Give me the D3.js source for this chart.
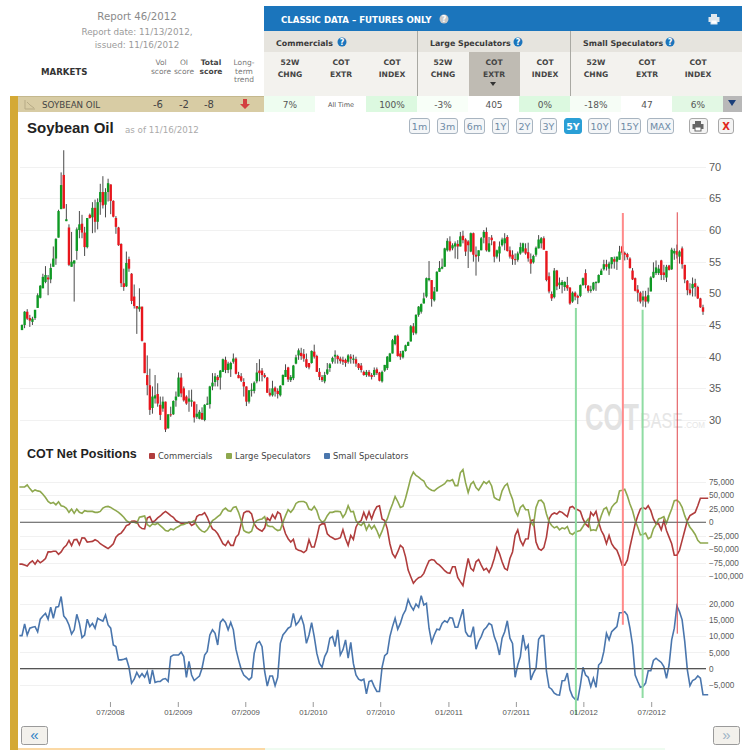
<!DOCTYPE html>
<html>

<head>
	<meta charset="utf-8">
	<title>Soybean Oil COT</title>
	<script src="https://d3js.org/d3.v7.min.js"></script>
	<style>
		html, body { margin: 0; padding: 0; background: #fff; }
		svg { display: block; }
	</style>
</head>

<body>
	<script>
		// Weekly prices, 11/13/2007 to 11/13/2012
		const opens = [
			44.2,45.0,47.1,46.1,45.5,46.1,47.7,49.3,50.8,51.8,
			52.5,52.2,54.2,55.5,58.8,63.3,68.7,61.4,60.4,54.2,
			54.7,56.7,60.0,61.0,59.6,57.3,62.4,62.0,63.5,61.3,
			64.4,66.0,64.0,66.0,67.2,64.6,61.9,60.4,57.8,51.6,
			51.1,55.4,53.1,49.5,48.0,47.5,47.9,42.2,37.1,35.5,
			31.9,33.4,34.1,32.4,31.8,32.9,28.7,30.9,30.9,33.1,
			33.7,36.7,35.0,33.7,32.9,32.9,32.9,30.5,30.2,31.1,
			30.0,32.4,32.5,35.3,36.0,36.8,36.7,37.6,39.5,37.9,
			38.0,39.2,39.7,37.1,36.9,36.0,35.3,32.9,
			34.6,34.6,36.1,37.8,37.8,37.1,36.7,34.3,33.9,35.1,
			34.6,33.9,35.5,36.8,38.3,36.3,36.6,38.9,40.2,40.6,
			40.4,39.6,39.0,39.0,40.8,40.1,37.6,36.8,36.1,37.3,
			38.2,39.2,40.0,40.1,39.7,39.5,39.5,39.2,40.0,39.5,
			39.6,38.9,38.6,37.6,37.1,37.6,37.1,37.1,38.0,37.5,
			36.1,37.8,38.2,39.2,40.5,42.0,43.3,40.5,39.9,40.9,
			41.7,42.4,44.8,43.7,46.6,47.1,48.4,49.5,52.1,52.1,
			48.9,50.3,53.4,53.9,54.2,56.8,58.2,57.1,57.4,57.8,
			57.4,59.1,58.5,58.2,56.6,59.5,56.1,55.9,56.8,58.8,
			59.7,56.6,58.8,58.2,55.8,56.3,57.6,57.9,58.9,56.8,
			56.1,55.4,55.3,56.3,56.6,57.1,56.5,55.4,54.9,56.1,
			57.1,57.9,58.7,56.7,52.7,49.9,49.4,53.6,51.3,51.3,
			51.0,51.3,50.9,48.7,50.1,49.6,49.6,51.3,53.2,51.2,
			50.4,50.6,51.6,51.7,52.9,53.8,54.6,53.9,54.6,55.4,
			55.0,55.3,57.4,56.4,56.2,55.5,53.6,52.4,50.6,50.1,
			48.9,49.5,48.7,50.3,52.5,53.2,53.2,55.2,53.3,52.5,
			54.4,53.8,56.3,56.7,55.8,57.1,54.5,52.0,50.6,50.8,
			51.6,51.0,49.2,47.8
		];
		const closes = [
			45.0,47.1,46.0,45.7,46.0,47.4,49.7,51.2,52.6,52.9,
			52.2,54.0,55.5,58.6,63.0,67.1,63.4,61.7,54.5,55.0,
			55.2,60.1,60.9,59.6,57.3,61.9,61.9,63.5,61.3,64.4,
			66.0,63.9,66.0,67.4,64.6,62.1,60.5,57.6,51.6,51.0,
			54.8,53.9,48.8,48.0,47.6,47.9,42.5,37.4,35.5,31.6,
			33.7,33.9,32.6,30.8,32.9,28.5,30.9,30.8,33.0,33.7,
			36.7,34.2,33.1,32.6,33.4,33.1,30.4,31.0,31.3,30.1,
			32.4,32.6,35.3,35.9,36.9,36.3,37.8,39.6,37.9,38.9,
			39.0,39.7,37.3,36.6,36.2,35.3,32.9,34.7,
			34.8,35.9,37.5,37.4,37.1,36.8,34.3,33.9,35.0,34.5,
			34.1,35.4,37.1,37.9,36.4,36.8,38.6,39.9,41.0,40.1,
			39.7,38.4,38.3,40.9,40.0,37.6,36.8,36.3,37.1,38.0,
			38.8,39.8,40.3,39.6,39.3,39.2,39.0,40.2,39.7,39.7,
			38.9,38.2,37.9,37.1,37.6,37.0,36.8,37.9,37.4,36.2,
			37.6,38.7,40.0,40.5,42.6,43.3,40.1,40.0,40.9,41.8,
			42.3,44.8,43.8,46.6,47.9,48.3,49.2,52.4,52.4,49.1,
			50.3,53.4,54.0,54.2,57.1,58.3,56.8,57.6,57.9,57.4,
			59.0,58.4,56.6,57.6,59.5,56.1,55.8,56.8,58.7,59.7,
			56.8,57.9,58.4,55.8,56.8,57.4,58.5,58.7,56.7,55.8,
			55.4,55.3,56.3,57.3,57.9,56.3,55.5,54.7,55.9,57.2,
			58.5,58.7,56.9,52.1,50.3,49.2,53.6,51.1,51.7,51.8,
			51.8,50.8,48.4,50.1,49.5,49.3,51.3,52.4,51.3,50.4,
			50.6,51.7,51.8,52.9,53.6,54.6,54.2,54.7,55.7,55.0,
			55.8,56.6,56.4,56.1,55.7,54.0,52.2,50.4,50.1,48.7,
			49.5,48.7,49.7,52.5,53.4,54.1,53.9,52.9,52.9,54.2,
			53.7,56.9,56.7,56.1,56.6,54.6,52.2,50.5,50.0,51.5,
			51.0,49.2,47.8,47.1
		];
		const highs = [
			45.1,47.2,47.5,46.6,46.3,47.4,50.0,51.3,53.1,54.3,
			52.9,54.7,57.4,58.7,63.2,69.1,72.6,64.1,60.9,59.7,
			55.2,60.4,63.0,62.4,60.5,61.9,62.6,64.4,64.8,65.0,
			67.3,68.5,66.6,68.1,67.2,64.7,62.2,60.5,57.9,53.9,
			56.6,55.8,53.2,51.4,48.0,50.8,47.9,42.2,40.2,38.1,
			35.3,37.1,35.8,33.7,33.7,32.9,30.9,32.1,33.1,34.5,
			37.5,37.4,35.3,33.9,34.7,34.8,32.9,32.5,31.6,32.0,
			32.5,33.7,35.4,37.4,37.4,37.1,37.9,39.7,40.0,39.2,
			39.2,40.5,39.9,37.6,37.4,36.6,35.3,34.7,
			35.8,36.1,39.0,39.6,38.2,37.4,36.8,35.0,36.2,35.3,
			35.0,35.5,37.2,38.8,38.4,37.1,38.7,40.3,41.3,41.4,
			41.2,40.5,39.0,41.0,41.9,40.3,38.2,37.1,37.6,39.0,
			39.0,40.0,41.0,40.3,40.0,40.0,39.7,40.4,40.4,40.3,
			40.0,39.0,39.0,37.8,37.9,37.9,37.4,38.3,38.3,37.6,
			37.8,38.7,40.1,40.6,42.8,43.4,43.5,40.9,41.0,41.9,
			42.4,45.0,45.3,46.7,48.0,48.4,50.1,52.5,55.1,52.1,
			51.0,53.5,55.1,55.5,57.2,58.7,59.0,57.9,58.2,58.4,
			59.7,59.9,58.7,58.4,59.6,59.6,57.4,56.8,58.9,60.0,
			60.4,58.9,59.2,58.2,56.9,58.2,58.8,59.5,59.2,57.4,
			56.8,56.3,56.6,58.0,58.0,57.9,58.0,56.3,56.1,57.4,
			59.2,58.9,59.0,56.7,53.3,50.3,54.0,53.7,52.5,52.1,
			51.9,52.6,51.0,50.3,50.3,49.8,51.4,52.5,53.8,51.3,
			51.2,51.8,51.9,53.0,53.9,55.3,55.3,55.0,55.7,55.8,
			55.8,57.5,57.5,56.6,56.4,55.7,54.0,52.5,51.3,50.3,
			50.4,50.4,50.9,52.7,54.9,55.2,54.5,55.3,54.5,54.5,
			54.5,57.2,57.1,57.7,56.8,57.4,54.5,52.1,51.6,52.5,
			52.3,51.2,49.3,48.2
		];
		const lows = [
			44.2,44.5,45.8,44.7,45.0,45.8,47.7,49.2,50.8,51.6,
			49.7,51.6,54.2,54.5,58.8,63.3,63.4,61.4,54.3,54.2,
			48.7,55.3,58.7,58.7,55.9,57.1,61.8,59.5,59.6,60.1,
			62.4,63.4,62.0,64.5,62.5,62.0,59.4,57.5,51.0,50.4,
			51.0,53.4,48.3,47.6,43.6,47.1,42.4,37.4,33.9,30.8,
			31.0,32.6,32.1,30.0,31.3,28.1,28.6,30.5,30.8,32.1,
			33.7,33.6,32.9,32.4,31.3,32.1,29.6,30.2,30.1,30.0,
			29.8,32.4,31.8,34.7,35.3,35.3,34.8,37.6,37.4,37.4,
			36.8,38.9,37.2,36.6,36.0,33.7,32.2,32.6,
			33.7,34.2,35.8,36.1,36.1,36.6,34.3,33.7,33.7,33.7,
			33.4,33.7,35.5,36.8,36.0,36.0,36.3,38.8,39.5,39.5,
			39.2,38.2,38.0,38.9,39.7,37.6,36.3,36.0,35.8,37.1,
			37.6,38.9,38.9,38.9,38.9,38.7,38.4,38.9,38.9,38.9,
			38.4,37.9,37.5,37.0,36.8,36.8,36.4,36.8,37.1,36.1,
			35.9,37.6,37.9,39.2,40.5,41.8,40.0,39.5,39.7,40.8,
			41.7,42.4,43.4,43.5,46.3,46.8,48.4,49.3,51.9,47.9,
			48.7,50.3,53.4,53.8,54.2,56.6,56.6,56.8,55.5,55.4,
			57.4,57.9,55.9,54.0,56.5,55.0,52.8,55.0,56.8,57.9,
			56.6,56.5,57.6,54.9,55.5,55.0,57.4,56.8,56.6,55.5,
			54.5,54.5,55.0,56.1,56.4,56.1,55.0,53.1,54.7,55.8,
			57.1,57.1,56.9,51.9,50.0,48.8,49.2,50.5,50.7,50.0,
			50.4,50.4,48.2,48.5,48.9,48.3,49.4,51.2,50.8,50.1,
			50.1,50.4,50.4,51.6,52.9,53.6,53.6,52.9,53.9,53.9,
			53.7,55.3,56.1,55.2,55.3,53.9,52.1,50.3,48.7,48.4,
			47.9,47.8,48.4,50.3,52.4,52.9,52.9,52.1,52.1,51.8,
			53.6,53.7,55.3,55.5,54.7,53.9,51.6,49.7,49.7,49.5,
			49.5,49.1,47.7,46.6
		];

		// COT net positions, thousands of contracts, one week either side of the prices
		const largeSpec = [
			65.3,65.3,65.3,68.9,62.2,56.7,59.8,58.0,56.7,51.9,
			45.8,38.4,34.8,36.6,32.3,37.8,30.5,29.3,25.6,18.3,
			24.4,16.5,24.4,18.3,16.5,21.4,20.1,20.1,20.1,18.3,
			18.3,20.1,26.2,28.7,29.3,27.5,24.4,21.4,18.3,14.0,
			9.2,3.1,0,0,0,-1.8,9.2,10.4,11.6,-4.3,
			-7.9,-3.1,-4.3,-1.8,-6.1,-10.4,-15.3,-16.5,-12.2,-14.0,
			-10.4,-7.9,-4.9,-4.3,-1.8,0,0,3.1,-6.1,-12.2,
			-16.5,-18.3,-14.0,-6.1,3.1,6.1,10.4,14.0,22.6,26.2,
			21.4,20.1,27.5,28.7,18.3,3.1,-15.3,-18.3,-19.5,-16.5,
			-1.8,3.1,4.9,6.1,10.4,-6.1,-7.9,-7.9,-12.2,-15.3,
			-14.0,0,12.2,23.2,18.3,24.4,34.8,37.8,38.4,38.4,
			35.4,24.4,22.6,29.3,21.4,6.1,0,3.1,12.2,18.3,
			18.3,20.1,20.1,19.5,9.2,16.5,30.5,19.5,20.1,
			3.1,-3.1,-6.1,0,-14.0,-4.3,-12.2,-6.1,-15.3,-27.5,
			-16.5,-3.1,6.1,21.4,33.6,47.6,38.4,27.5,29.3,44.5,
			62.8,82.4,92.7,86.6,83.6,79.3,76.3,66.5,62.2,59.2,
			58.0,62.2,65.3,68.3,71.4,77.5,76.3,78.7,67.7,67.7,
			91.5,97.6,73.2,54.9,70.2,75.0,64.1,59.2,67.1,75.0,
			71.4,76.3,67.1,45.8,42.7,40.9,58.0,67.1,71.4,54.9,
			42.7,21.4,12.2,27.5,31.7,23.2,23.2,0,-6.1,27.5,
			39.7,40.9,34.8,15.3,1.2,-6.1,-10.4,-7.9,-14.0,-10.4,
			-12.2,-7.9,-20.1,-22.6,-18.3,-16.5,-15.3,-7.9,0,6.1,
			-15.3,-14.0,-15.3,-3.1,12.2,24.4,27.5,14.0,27.5,33.6,
			37.8,58.0,59.2,61.0,48.8,33.6,21.4,3.1,-9.2,-23.2,
			-22.6,-20.1,-30.5,-27.5,-12.2,-4.3,6.1,7.9,10.4,-1.8,
			12.2,24.4,39.7,40.9,36.6,27.5,12.2,0,-9.2,-15.3,
			-22.6,-33.6,-38.4,-38.4,-38.4,-38.4
		];
		const commercials = [
			-77.5,-77.5,-79.3,-81.1,-75.0,-71.4,-77.5,-70.2,-75.0,-71.4,
			-67.1,-54.9,-54.9,-53.7,-53.7,-59.2,-54.9,-47.0,-42.7,-33.6,
			-43.3,-32.3,-31.7,-41.5,-28.7,-29.3,-36.6,-36.0,-35.4,-32.3,-34.8,
			-39.7,-42.7,-45.8,-48.8,-44.5,-39.7,-27.5,-22.6,-20.1,-14.0,
			-6.1,-4.3,1.8,2.4,1.2,-7.9,-11.6,-12.2,7.9,10.4,
			0,3.1,7.9,11.6,16.5,20.1,16.5,12.2,9.2,3.1,
			0.6,-1.8,-1.8,-1.8,0,-6.1,-3.1,10.4,14.0,14.0,
			17.7,9.2,-3.1,-12.2,-15.3,-21.4,-30.5,-39.7,-43.3,-34.8,
			-42.7,-42.7,-27.5,-22.6,-3.1,17.1,20.1,20.1,15.3,-3.1,
			-10.4,-14.0,-16.5,-10.4,7.9,3.1,14.0,6.7,18.9,15.3,
			-6.1,-21.4,-30.5,-36.6,-31.7,-48.8,-51.9,-53.1,-56.1,-51.9,
			-32.3,-45.8,-45.8,-27.5,-6.1,-3.1,-3.1,-21.4,-26.2,-28.7,
			-31.7,-30.5,-28.7,-14.0,-30.5,-42.7,-24.4,-31.7,-9.2,0,
			3.1,18.3,6.1,19.5,6.1,20.1,28.7,30.5,
			6.1,3.1,-12.2,-39.7,-58.0,-65.3,-54.9,-42.7,-47.0,
			-64.1,-88.5,-100.7,-112.9,-106.8,-102.5,-100.7,-94.6,-82.4,-71.4,
			-68.9,-70.2,-76.3,-79.3,-84.2,-89.7,-93.3,-94.6,-82.4,-82.4,
			-101.9,-109.8,-117.1,-91.5,-67.1,-85.4,-89.7,-73.2,-68.9,-79.3,
			-88.5,-85.4,-92.7,-82.4,-67.1,-47.0,-58.0,-73.2,-85.4,-88.5,
			-67.1,-54.9,-24.4,-14.0,-33.6,-42.7,-31.1,-30.5,3.1,4.3,
			-36.6,-48.8,-51.9,-47.0,-27.5,6.1,14.0,17.1,15.3,20.1,
			18.3,14.0,10.4,27.5,29.3,24.4,23.2,20.1,6.1,-3.1,
			-7.9,18.3,12.2,20.1,0,-15.3,-24.4,-39.7,-24.4,-39.7,
			-47.0,-51.9,-64.1,-79.3,-79.3,-70.2,-45.8,-24.4,-3.1,12.2,
			24.4,27.5,24.4,30.5,21.4,6.1,-3.1,-3.1,-14.0,3.1,
			-15.3,-27.5,-39.7,-61.0,-61.0,-51.9,-33.6,-15.3,3.1,12.2,
			15.3,18.3,30.5,44.5,44.5,44.5,44.5
		];
		const smallSpec = [
			10.2,10.2,13.8,10.4,12.5,12.8,13.0,11.4,15.3,16.3,
			17.1,15.3,19.0,15.6,19.0,19.2,22.3,16.3,15.3,13.5,
			10.7,12.0,16.8,14.0,9.6,10.4,15.3,13.0,14.0,12.5,
			15.6,15.1,14.7,16.6,13.5,12.5,7.3,6.8,2.7,2.7,
			2.9,3.2,0.4,-4.5,-3.3,-1.2,-2.7,-1.6,-2.7,-0.9,
			-4.7,-0.4,-4.3,-4.0,-4.0,-3.3,-3.1,-4.0,3.7,4.2,
			4.2,4.2,5.1,3.7,-2.7,2.2,-2.0,-3.7,-3.0,-2.3,
			0.1,4.2,5.3,10.4,12.0,10.9,7.3,14.3,15.3,14.3,
			12.0,14.3,12.0,6.0,2.7,-0.2,-2.0,-2.7,-3.5,-2.7,
			4.7,7.8,8.4,6.8,-0.9,-5.4,-2.3,-2.3,-5.3,-2.7,
			7.8,10.4,11.4,12.5,13.0,17.1,13.5,14.5,16.1,13.5,
			7.8,10.4,14.2,9.9,4.7,1.6,0.4,3.7,5.3,9.4,
			9.9,6.8,12.0,4.2,5.8,8.9,3.2,8.1,1.6,-2.0,
			-3.3,-3.7,-3.3,-7.8,-4.0,-3.7,-5.6,-7.1,-7.1,
			0.4,4.0,4.7,9.9,13.0,15.6,12.2,14.0,16.6,18.1,
			21.4,19.4,18.1,20.0,19.0,22.6,19.7,20.2,12.5,8.1,
			10.4,12.2,12.0,14.0,14.8,14.3,15.8,15.6,12.8,12.8,
			15.6,18.4,11.4,10.1,9.9,13.0,6.0,8.4,9.9,12.0,
			12.8,14.0,13.5,9.9,7.8,4.2,9.4,11.4,14.8,9.4,
			7.8,-2.7,1.1,3.7,10.4,6.0,7.3,-3.5,-1.4,0.1,
			9.1,10.2,10.2,-0.9,-5.8,-6.4,-7.6,-8.1,-8.2,-3.8,
			-3.7,-1.4,-6.6,-8.7,-9.5,-9.7,-5.1,0.4,-2.0,-2.7,
			-5.6,-3.0,-5.8,1.1,1.9,5.3,10.9,8.9,11.4,12.2,
			13.0,17.3,17.3,17.6,16.6,12.5,7.3,-2.0,-4.0,-5.8,
			-5.6,-4.5,-0.7,-0.7,2.5,3.2,2.5,1.9,0.6,-3.0,
			1.1,8.9,12.5,19.4,17.6,15.1,8.4,-0.4,-5.3,-3.7,
			-3.3,-2.3,-3.0,-8.1,-8.1,-8.1
		];

		const priceTicks = [30, 35, 40, 45, 50, 55, 60, 65, 70];
		const netTicks = [-100, -75, -50, -25, 0, 25, 50, 75];
		const smallTicks = [-5, 0, 5, 10, 15, 20];
		const tickDates = ['2008-07-06', '2009-01-04', '2009-07-04', '2010-01-01', '2010-07-01', '2010-12-31', '2011-06-30', '2011-12-28', '2012-06-27'];
		const tickLabels = ['07/2008', '01/2009', '07/2009', '01/2010', '07/2010', '01/2011', '07/2011', '01/2012', '07/2012'];

		// Signal lines: date, price where it starts, small spec value where it stops
		const signalDates = ['2011-12-08', '2012-04-12', '2012-06-04', '2012-09-05'];
		const signalPrices = [47.7, 62.7, 47.4, 62.8];
		const signalEnds = [-14.4, 13.6, -9.1, 10.8];
		const signalKinds = ['buy', 'sell', 'buy', 'sellThin'];

		const rangeButtons = ['1m', '3m', '6m', '1Y', '2Y', '3Y', '5Y', '10Y', '15Y', 'MAX'];
		const legendNames = ['Commercials', 'Large Speculators', 'Small Speculators'];
		const groupNames = ['Commercials', 'Large Speculators', 'Small Speculators'];
		const headerRows = [['52W', 'CHNG'], ['COT', 'EXTR'], ['COT', 'INDEX']];
		const rowValues = ['7%', 'All Time', '100%', '-3%', '405', '0%', '-18%', '47', '6%'];
		const scoreValues = ['-6', '-2', '-8'];

		const sans = 'DejaVu Sans, sans-serif';
		const arial = 'Liberation Sans, Arial, sans-serif';

		const svg = d3.select('body')
			.append('svg')
			.attr('width', 751)
			.attr('height', 750);

		function label(g, x, y, str, size, color, opts = {}) {
			return g.append('text')
				.attr('x', x)
				.attr('y', y)
				.attr('font-family', opts.family || sans)
				.attr('font-size', size)
				.attr('font-weight', opts.weight || 'normal')
				.attr('text-anchor', opts.anchor || 'start')
				.attr('fill', color)
				.text(str);
		}

		function box(g, x, y, w, h, fill) {
			return g.append('rect')
				.attr('x', x)
				.attr('y', y)
				.attr('width', w)
				.attr('height', h)
				.attr('fill', fill);
		}

		function helpDot(g, x, y, fill) {
			g.append('circle').attr('cx', x).attr('cy', y).attr('r', 4.5).attr('fill', fill);
			label(g, x, y + 3, '?', 8, '#fff', { anchor: 'middle', weight: 'bold' });
		}

		function printIcon(g, x, y, color) {
			box(g, x - 3, y - 5, 6, 3, color);
			box(g, x - 5.5, y - 2, 11, 5, color);
			box(g, x - 3, y + 1, 6, 4, '#fff').attr('stroke', color);
		}

		// ---- table header ----
		const head = svg.append('g');

		label(head, 137, 20, 'Report 46/2012', 10.2, '#8a8a8a', { anchor: 'middle' });
		label(head, 137, 35, 'Report date: 11/13/2012,', 8.8, '#9a9a9a', { anchor: 'middle' });
		label(head, 137, 48, 'issued: 11/16/2012', 8.8, '#9a9a9a', { anchor: 'middle' });
		label(head, 41, 75, 'MARKETS', 8.6, '#333', { weight: 'bold' });

		label(head, 161, 65, 'Vol', 7.5, '#777', { anchor: 'middle' });
		label(head, 161, 74, 'score', 7.5, '#777', { anchor: 'middle' });
		label(head, 184, 65, 'OI', 7.5, '#777', { anchor: 'middle' });
		label(head, 184, 74, 'score', 7.5, '#777', { anchor: 'middle' });
		label(head, 211, 65, 'Total', 7.5, '#444', { anchor: 'middle', weight: 'bold' });
		label(head, 211, 74, 'score', 7.5, '#444', { anchor: 'middle', weight: 'bold' });
		label(head, 244, 65, 'Long-', 7.5, '#777', { anchor: 'middle' });
		label(head, 244, 74, 'term', 7.5, '#777', { anchor: 'middle' });
		label(head, 244, 82, 'trend', 7.5, '#777', { anchor: 'middle' });

		box(head, 264, 6, 478, 25, '#1b75bc');
		box(head, 264, 31, 478, 21, '#e6e4de');
		box(head, 264, 52, 478, 44, '#f3f2ee');
		box(head, 469, 52, 51, 44, '#bfbbb3');
		label(head, 281, 23, 'CLASSIC DATA \u2013 FUTURES ONLY', 8.6, '#fff', { weight: 'bold' });
		helpDot(head, 444, 19, '#c8c8c8');
		printIcon(head, 714, 19, '#dfe7ee');

		const groupX = [276, 430, 583];
		const groupHelp = [342, 518, 670];
		groupNames.forEach((name, i) => {
			label(head, groupX[i], 46, name, 7.9, '#3a3a3a', { weight: 'bold' });
			helpDot(head, groupHelp[i], 42, '#1b75bc');
		});
		[417, 570].forEach(x => box(head, x, 31, 1, 65, '#a9a9a3'));

		const colX = d3.scalePoint().domain(d3.range(9)).range([290, 698]);
		const cellColors = ['#eefdf0', '#fff', '#dcf9e0', '#f8fff8', '#fff', '#dcf9e0', '#f6fdf6', '#fff', '#e2f8e4'];
		rowValues.forEach((v, i) => {
			const hdr = headerRows[i % 3];
			label(head, colX(i), 65, hdr[0], 7.6, '#444', { anchor: 'middle', weight: 'bold' });
			label(head, colX(i), 77, hdr[1], 7.6, '#444', { anchor: 'middle', weight: 'bold' });
		});
		head.append('path').attr('d', 'M490 82h6l-3 4z').attr('fill', '#333');

		// ---- market row ----
		box(head, 10, 96, 8, 16, '#d4a935');
		box(head, 18, 96, 246, 16, '#d8cca4');
		box(head, 18, 96, 246, 1, '#c4b88e');
		head.append('path').attr('d', 'M25 100v9h10M27 102l3 3 4 3').attr('fill', 'none').attr('stroke', '#b7ab86');
		label(head, 42, 108, 'SOYBEAN OIL', 8.7, '#444');
		[158, 184, 209].forEach((x, i) => label(head, x, 108, scoreValues[i], 10, '#444', { anchor: 'middle' }));
		head.append('path').attr('d', 'M243 99h4v5h3l-5 5l-5-5h3z').attr('fill', '#d33f3f');

		rowValues.forEach((v, i) => {
			box(head, 264 + i * 51, 96, 51, 16, cellColors[i]);
			label(head, colX(i), v === 'All Time' ? 107 : 108, v, v === 'All Time' ? 6.5 : 9, '#555', { anchor: 'middle' });
		});
		box(head, 723, 96, 19, 16, '#b8b8b8');
		head.append('path').attr('d', 'M728 100h8l-4 6z').attr('fill', '#1b3f7a');

		// ---- chart frame ----
		box(svg, 10, 112, 8, 638, '#d4a935');
		box(svg, 18, 748, 247, 2, '#fbd9a5');
		box(svg, 265, 748, 400, 2, '#eefbf0');
		label(svg, 27, 133, 'Soybean Oil', 15, '#222', { family: arial, weight: 'bold' });
		label(svg, 125, 133, 'as of 11/16/2012', 8.7, '#aaa');

		const buttonX = [409, 437, 464, 492, 516, 540, 564, 588, 618, 647];
		const buttonW = [20, 20, 20, 16, 16, 16, 17, 22, 22, 26];
		rangeButtons.forEach((b, i) => {
			const active = b === '5Y';
			box(svg, buttonX[i] + 0.5, 118.5, buttonW[i], 15, active ? '#2a9fd6' : '#f4f6f8')
				.attr('rx', 2.5)
				.attr('stroke', active ? '#2a9fd6' : '#a8b4c0');
			label(svg, buttonX[i] + buttonW[i] / 2 + 0.5, 130, b, 9.5, active ? '#fff' : '#6d8aa6', { anchor: 'middle', weight: active ? 'bold' : 'normal' });
		});
		box(svg, 689.5, 118.5, 18, 15, '#f4f4f4').attr('rx', 2.5).attr('stroke', '#a8a8a8');
		printIcon(svg, 698, 126, '#666');
		box(svg, 718.5, 118.5, 15, 15, '#f4f4f4').attr('rx', 2.5).attr('stroke', '#a8a8a8');
		label(svg, 726, 130, 'X', 10, '#e0281e', { anchor: 'middle', weight: 'bold' });

		// ---- scales ----
		const parseDate = d3.utcParse('%Y-%m-%d');
		const cotDates = d3.range(largeSpec.length).map(i => d3.utcDay.offset(parseDate('2007-11-06'), i * 7));
		const weekDates = cotDates.slice(1, closes.length + 1);

		const xScale = d3.scaleUtc()
			.domain([weekDates[0], weekDates[weekDates.length - 1]])
			.range([22, 703]);
		const priceY = d3.scaleLinear().domain([30, 70]).range([420, 166.7]);
		const netY = d3.scaleLinear().domain([-100, 75]).range([576.3, 481.7]);
		const smallY = d3.scaleLinear().domain([-5, 20]).range([684.7, 604]);

		// ---- grid lines ----
		function grid(scale, ticks) {
			svg.append('g').selectAll('line')
				.data(ticks)
				.enter()
				.append('line')
				.attr('x1', 20)
				.attr('x2', 706)
				.attr('y1', d => Math.round(scale(d)) + 0.5)
				.attr('y2', d => Math.round(scale(d)) + 0.5)
				.attr('stroke', '#f1f1f1');
		}
		grid(priceY, priceTicks);
		grid(netY, netTicks);
		grid(smallY, smallTicks);

		// ---- watermark ----
		const mark = svg.append('g');
		label(mark, 585, 430, 'COT', 36, '#e2e2e2', { family: arial, weight: 'bold' })
			.attr('textLength', 54).attr('lengthAdjust', 'spacingAndGlyphs');
		label(mark, 640, 428, 'BASE', 22, '#e6e6e6', { family: arial })
			.attr('textLength', 43).attr('lengthAdjust', 'spacingAndGlyphs');
		label(mark, 684, 428, '.COM', 9, '#e6e6e6', { family: arial })
			.attr('textLength', 21).attr('lengthAdjust', 'spacingAndGlyphs');

		// ---- candles ----
		const candleData = closes.map((c, i) => ({ date: weekDates[i], open: opens[i], close: c, high: highs[i], low: lows[i] }));
		const candles = svg.append('g').selectAll('g')
			.data(candleData)
			.enter()
			.append('g');

		candles.append('line')
			.attr('x1', d => xScale(d.date))
			.attr('x2', d => xScale(d.date))
			.attr('y1', d => priceY(d.high))
			.attr('y2', d => priceY(d.low))
			.attr('stroke', '#4a4a4a');

		candles.append('rect')
			.attr('x', d => xScale(d.date) - 1.2)
			.attr('width', 2.4)
			.attr('y', d => priceY(Math.max(d.open, d.close)))
			.attr('height', d => Math.max(1, Math.abs(priceY(d.open) - priceY(d.close))))
			.attr('fill', d => d.close >= d.open ? '#0f9a24' : '#e8161d');

		// ---- right hand axes ----
		function rightAxis(scale, ticks, format, size) {
			const g = svg.append('g')
				.attr('transform', 'translate(709, 0)')
				.call(d3.axisRight(scale).tickValues(ticks).tickSize(0).tickPadding(0).tickFormat(format));
			g.select('.domain').remove();
			g.selectAll('text')
				.attr('font-family', arial)
				.attr('font-size', size)
				.attr('fill', '#5c5c5c');
		}
		const thousands = d3.format(',');
		rightAxis(priceY, priceTicks, d => d, 11);
		rightAxis(netY, netTicks, d => thousands(d * 1000), 8.2);
		rightAxis(smallY, smallTicks, d => thousands(d * 1000), 8.2);

		// ---- COT panel ----
		label(svg, 27, 458, 'COT Net Positions', 12.5, '#222', { family: arial, weight: 'bold' });

		const legendColors = ['#b03d3d', '#8ea84e', '#4a76ad'];
		const legendX = [149, 226, 324];
		legendNames.forEach((name, i) => {
			box(svg, legendX[i], 453, 6, 6, legendColors[i]).attr('rx', 1);
			label(svg, legendX[i] + 9, 459, name, 8.4, '#444');
		});

		const netLine = d3.line().x((d, i) => xScale(cotDates[i])).y(d => netY(d));
		const smallLine = d3.line().x((d, i) => xScale(cotDates[i])).y(d => smallY(d));

		svg.append('path').datum(commercials).attr('d', netLine)
			.attr('fill', 'none').attr('stroke', legendColors[0]).attr('stroke-width', 1.6);
		svg.append('path').datum(largeSpec).attr('d', netLine)
			.attr('fill', 'none').attr('stroke', legendColors[1]).attr('stroke-width', 1.6);
		svg.append('path').datum(smallSpec).attr('d', smallLine)
			.attr('fill', 'none').attr('stroke', legendColors[2]).attr('stroke-width', 1.6);

		// zero lines
		[netY(0), smallY(0)].forEach(y => {
			svg.append('line')
				.attr('x1', 20).attr('x2', 706)
				.attr('y1', y).attr('y2', y)
				.attr('stroke', '#555').attr('stroke-width', 1.2);
		});

		// ---- signal lines ----
		const signalColor = { buy: '#8fdca3', sell: '#ff8a8a', sellThin: '#e0474c' };
		svg.append('g').selectAll('line')
			.data(signalDates)
			.enter()
			.append('line')
			.attr('x1', d => xScale(parseDate(d)))
			.attr('x2', d => xScale(parseDate(d)))
			.attr('y1', (d, i) => priceY(signalPrices[i]))
			.attr('y2', (d, i) => smallY(signalEnds[i]))
			.attr('stroke', (d, i) => signalColor[signalKinds[i]])
			.attr('stroke-width', (d, i) => signalKinds[i] === 'sellThin' ? 1 : 2);

		// ---- date axis ----
		const dateAxis = svg.append('g')
			.attr('transform', 'translate(0, 702)')
			.call(d3.axisBottom(xScale)
				.tickValues(tickDates.map(parseDate))
				.tickSize(5)
				.tickPadding(2)
				.tickFormat((d, i) => tickLabels[i]));
		dateAxis.select('.domain').remove();
		dateAxis.selectAll('line').attr('stroke', '#999');
		dateAxis.selectAll('text')
			.attr('font-family', arial)
			.attr('font-size', 7.8)
			.attr('fill', '#555');

		// ---- paging buttons ----
		box(svg, 21.5, 726.5, 26, 18, '#f3f1ec').attr('rx', 2).attr('stroke', '#9a9a9a');
		label(svg, 34.5, 740, '\u00ab', 15, '#2c7fc4', { anchor: 'middle', family: arial });
		box(svg, 713.5, 726.5, 26, 18, '#f3f1ec').attr('rx', 2).attr('stroke', '#9a9a9a');
		label(svg, 726.5, 740, '\u00bb', 15, '#9fb4c6', { anchor: 'middle', family: arial });
	</script>
</body>

</html>
